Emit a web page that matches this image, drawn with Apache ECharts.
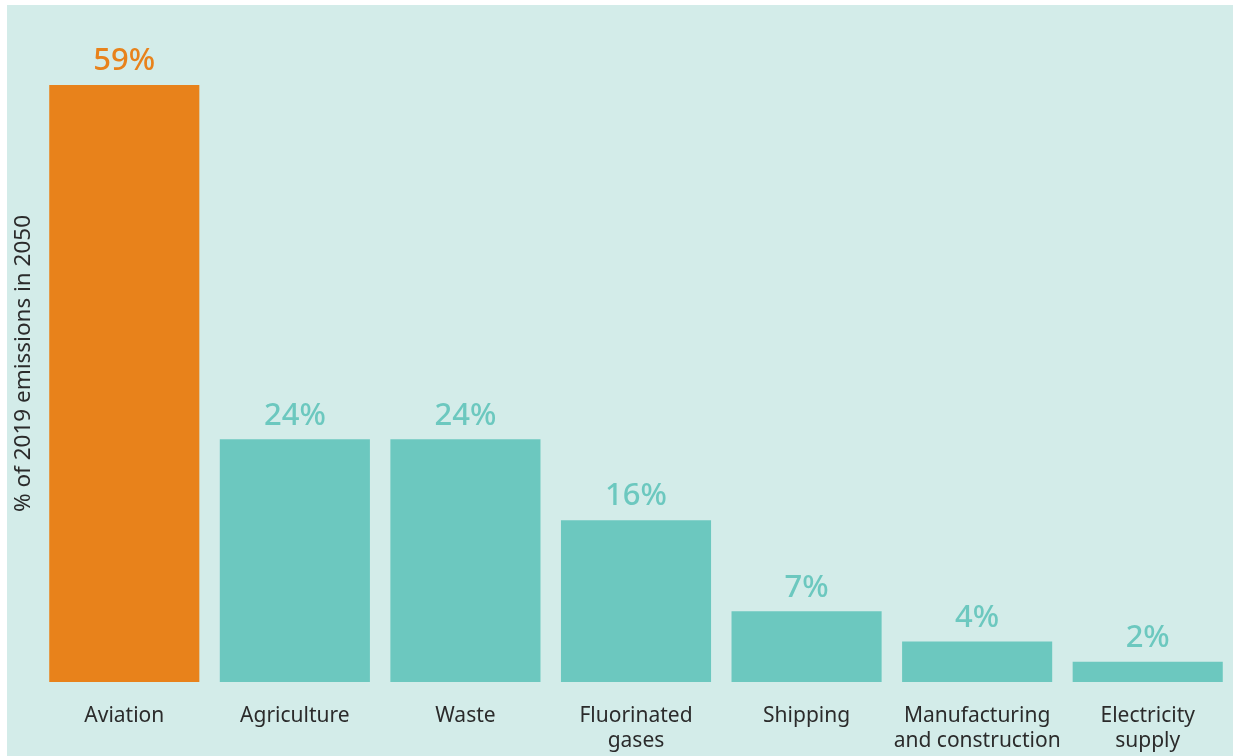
<!DOCTYPE html>
<html><head><meta charset="utf-8">
<script src="https://cdn.jsdelivr.net/npm/echarts@6/dist/echarts.min.js"></script>
<style>html,body{margin:0;padding:0;background:#fff}#c{width:1238px;height:756px}</style>
</head><body><div id="c"></div>
<script>
const categories = ['Aviation', 'Agriculture', 'Waste', 'Fluorinated\ngases', 'Shipping', 'Manufacturing\nand construction', 'Electricity\nsupply'];
const values = [59, 24, 24, 16, 7, 4, 2];
const highlight = [true, false, false, false, false, false, false];
const yAxisName = '% of 2019 emissions in 2050';

const ORANGE = '#e8821b', TEAL = '#6cc8bf';
const chart = echarts.init(document.getElementById('c'));
chart.setOption({
  backgroundColor: '#ffffff',
  animation: false,
  graphic: [{ type: 'rect', z: -10, shape: { x: 7, y: 5, width: 1226, height: 760 }, style: { fill: '#d3ece9' } }],
  grid: { left: 39, right: 5, top: 75, bottom: 74, containLabel: false, outerBoundsMode: 'none' },
  xAxis: {
    type: 'category', data: categories,
    axisLine: { show: false }, axisTick: { show: false },
    axisLabel: { color: '#2b2b2b', fontFamily: 'Noto Sans', fontSize: 21, lineHeight: 25, margin: 22, interval: 0 }
  },
  yAxis: {
    type: 'value', min: 0, max: 60,
    axisLine: { show: false }, axisTick: { show: false }, axisLabel: { show: false }, splitLine: { show: false },
    name: yAxisName, nameLocation: 'middle', nameGap: 4,
    nameTextStyle: { color: '#2b2b2b', fontFamily: 'Noto Sans', fontSize: 22.5, padding: [0, 0, 0, 30] }
  },
  series: [{
    type: 'bar', barCategoryGap: '12%',
    data: values.map((v, i) => ({ value: v, itemStyle: { color: highlight[i] ? ORANGE : TEAL },
      label: { color: highlight[i] ? ORANGE : TEAL } })),
    label: { show: true, position: 'top', distance: 8, formatter: '{c}%', fontFamily: 'Noto Sans', fontSize: 31, fontWeight: 500 }
  }]
});
</script></body></html>
